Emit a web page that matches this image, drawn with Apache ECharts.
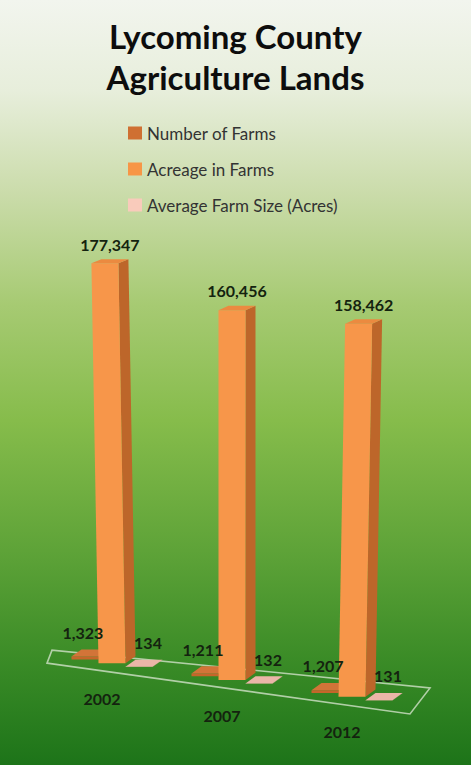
<!DOCTYPE html>
<html>
<head>
<meta charset="utf-8">
<style>
html,body{margin:0;padding:0;width:471px;height:765px;overflow:hidden;}
#chart{width:471px;height:765px;}
</style>
<script src="https://cdn.jsdelivr.net/npm/echarts@6/dist/echarts.min.js"></script>
</head>
<body>
<div id="chart"></div>
<script>
// ---- data ----
const years = ['2002', '2007', '2012'];
const numberOfFarms = [1323, 1211, 1207];
const acreageInFarms = [177347, 160456, 158462];
const averageFarmSize = [134, 132, 131];
const seriesNames = ['Number of Farms', 'Acreage in Farms', 'Average Farm Size (Acres)'];

// ---- style constants ----
const FLOOR_SLOPE = 0.14;      // perspective tilt of the floor
const DEPTH_X = 10;            // box depth projection (x)
const BAR_W = 27;
const LEAN_K = 0.000148;
const PERSP_P = 0.00018;
const LABEL_FONT = 'bold 16px Lato, "DejaVu Sans", sans-serif';
const LABEL_COLOR = '#14230f';
const fmt = v => v.toLocaleString('en-US');
// depth y grows toward the bottom (viewed more from above)
const depthY = y => -4 - 3 * Math.max(0, (y - 263)) / 400;

const palettes = [
  {front: '#c5662a', top: '#d27438', side: '#9a4e1e', legend: '#cf7032', lab: [-7, -17]},
  {front: '#f7964a', top: '#eb8a40', side: '#bd662a', legend: '#f79646', lab: [0, -15]},
  {front: '#e2aa9b', top: '#ebb6a8', side: '#bd8b7f', legend: '#f9cbbb', lab: [4, -17]}
];

function boxRenderer(sIdx) {
  const pal = palettes[sIdx];
  return function (params, api) {
    const cs = params.coordSys;
    const uc = cs.x + cs.width / 2;
    const i = api.value(0), v = api.value(1);
    const c0 = api.coord([i, 0]);
    const c1 = api.coord([i, v]);
    const band = api.size([1, 0])[0];
    const slot = BAR_W * (band / 120);
    const cx = c0[0] + (sIdx - 1) * slot;
    const x0 = cx - slot / 2, x1 = cx + slot / 2;
    const by = c0[1] + FLOOR_SLOPE * (cx - uc);
    const h = (c0[1] - c1[1]) * (1 + PERSP_P * (cx - uc));
    const lean = (cx - uc) * h * LEAN_K;
    const ty = by - h;
    const fl = [x0 + lean, ty], fr = [x1 + lean, ty];
    const bl = [x0, by], br = [x1, by];
    const add = p => [p[0] + DEPTH_X, p[1] + depthY(p[1])];
    const zb = 10 + sIdx * 3;
    const topBack = add(fl);
    const children = [
      {type: 'polygon', z2: zb, shape: {points: [br, fr, add(fr), add(br)]}, style: {fill: pal.side}},
      {type: 'polygon', z2: zb + 1, shape: {points: [bl, br, fr, fl]}, style: {fill: pal.front}},
      {type: 'polygon', z2: zb + 2, shape: {points: [fl, fr, add(fr), add(fl)]}, style: {fill: pal.top}},
      {type: 'text', z2: 100, x: (fl[0] + fr[0]) / 2 + DEPTH_X / 2 + pal.lab[0], y: topBack[1] + pal.lab[1],
        style: {text: fmt(v), font: LABEL_FONT, fill: LABEL_COLOR, align: 'center', verticalAlign: 'middle', textAlign: 'center', textVerticalAlign: 'middle'}}
    ];
    return {type: 'group', children: children};
  };
}

function floorRenderer(params, api) {
  const cs = params.coordSys;
  const uc = cs.x + cs.width / 2;
  const i = api.value(0);
  const c0 = api.coord([i, 0]);
  const by = u => c0[1] + FLOOR_SLOPE * (u - uc);
  const children = [];
  if (i === 0) {
    const uL = cs.x - 5, uR = cs.x + cs.width - 2;
    const fL = [uL, by(uL) + 9], fR = [uR, by(uR) + 9];
    const bL = [fL[0] + 5, fL[1] - 13], bR = [fR[0] + 20, fR[1] - 26];
    children.push({type: 'polygon', z2: 1, shape: {points: [fL, fR, bR, bL]},
      style: {fill: 'rgba(0,0,0,0)', stroke: 'rgba(200,220,190,0.85)', lineWidth: 1.6}});
  }
  const cx = c0[0];
  children.push({type: 'text', z2: 100, x: cx - 10, y: by(cx) + 35,
    style: {text: years[i], font: LABEL_FONT, fill: LABEL_COLOR, align: 'center', verticalAlign: 'middle', textAlign: 'center', textVerticalAlign: 'middle'}});
  return {type: 'group', children: children};
}

const toData = arr => arr.map((v, i) => [i, v]);

const chart = echarts.init(document.getElementById('chart'), null, {renderer: 'svg'});
chart.setOption({
  animation: false,
  backgroundColor: {
    type: 'linear', x: 0, y: 0, x2: 0, y2: 1,
    colorStops: [
      {offset: 0, color: '#f2f5ee'},
      {offset: 0.12, color: '#e7eedb'},
      {offset: 0.25, color: '#cbdcab'},
      {offset: 0.4, color: '#a6ca72'},
      {offset: 0.55, color: '#86bc4b'},
      {offset: 0.72, color: '#5ea338'},
      {offset: 0.86, color: '#3b8c27'},
      {offset: 1, color: '#1d7419'}
    ]
  },
  title: {
    text: 'Lycoming County\nAgriculture Lands',
    left: 'center',
    top: 10,
    textStyle: {fontFamily: 'Lato, "DejaVu Sans", sans-serif', fontWeight: 'bold', fontSize: 33, color: '#0d0d0d', lineHeight: 41}
  },
  legend: {
    orient: 'vertical',
    left: 128,
    top: 124,
    padding: 0,
    itemWidth: 14,
    itemHeight: 13,
    itemGap: 18,
    icon: 'rect',
    data: seriesNames,
    textStyle: {fontFamily: 'Lato, "DejaVu Sans", sans-serif', fontSize: 17, lineHeight: 18, color: '#333333'}
  },
  grid: {left: 52, width: 360, top: 219, height: 461},
  xAxis: {type: 'category', data: years, show: false},
  yAxis: {type: 'value', min: 0, max: 200000, show: false},
  series: [
    {type: 'custom', name: 'floor', renderItem: floorRenderer, data: toData(acreageInFarms), silent: true, z: 2},
    {type: 'custom', name: seriesNames[0], renderItem: boxRenderer(0), data: toData(numberOfFarms), itemStyle: {color: palettes[0].legend}, z: 2},
    {type: 'custom', name: seriesNames[1], renderItem: boxRenderer(1), data: toData(acreageInFarms), itemStyle: {color: palettes[1].legend}, z: 2},
    {type: 'custom', name: seriesNames[2], renderItem: boxRenderer(2), data: toData(averageFarmSize), itemStyle: {color: palettes[2].legend}, z: 2}
  ]
});
</script>
</body>
</html>
